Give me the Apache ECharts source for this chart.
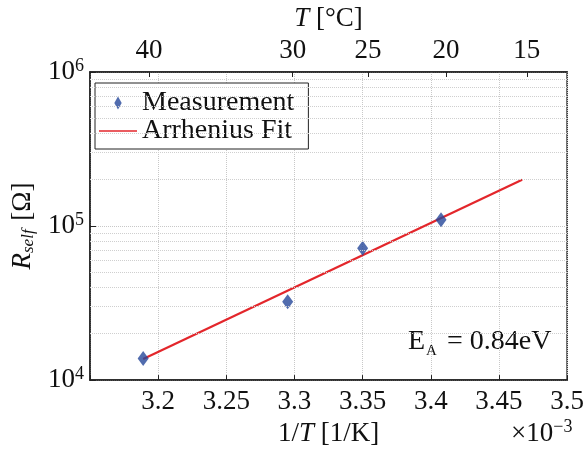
<!DOCTYPE html>
<html>
<head>
<meta charset="utf-8">
<script src="https://cdn.jsdelivr.net/npm/echarts@6/dist/echarts.min.js"></script>
<style>
html, body { margin: 0; padding: 0; background: #fff; }
#main { width: 587px; height: 452px; }
</style>
</head>
<body>
<div id="main"></div>
<script>
// measured points, 1/T in units of 1e-3 1/K
var invT = [3.189, 3.295, 3.350, 3.4075];
var resistance = [1.38e4, 3.23e4, 7.17e4, 1.10e5];
// fitted line (Arrhenius, EA = 0.84 eV)
var fitInvT = [3.189, 3.467];
var fitR = [1.37e4, 2.0e5];
// tick labels
var bottomTicks = [3.2, 3.25, 3.3, 3.35, 3.4, 3.45, 3.5];
var topTicksC = [40, 30, 25, 20, 15];
var yMinor = [2e4, 3e4, 4e4, 5e4, 6e4, 7e4, 8e4, 9e4, 2e5, 3e5, 4e5, 5e5, 6e5, 7e5, 8e5, 9e5];

var serif = '"Liberation Serif", "DejaVu Serif", serif';
var topPos = topTicksC.map(function (c) { return 1000 / (c + 273.15); });

var chart = echarts.init(document.getElementById('main'));

var option = {
	backgroundColor: '#fff',
	animation: false,
	grid: {
		left: 90, right: 19, top: 72, bottom: 66,
		show: true, borderColor: '#222', borderWidth: 1.5, backgroundColor: 'transparent'
	},
	legend: {
		orient: 'vertical',
		left: 95, top: 83,
		padding: [6, 14, 4, 4],
		itemGap: 0,
		itemWidth: 38,
		itemHeight: 13,
		symbolKeepAspect: true,
		borderColor: '#222',
		borderWidth: 1,
		backgroundColor: '#fff',
		textStyle: { fontFamily: serif, fontSize: 28, color: '#111', lineHeight: 26 },
		data: [
			{ name: 'Measurement', icon: 'path://M5,0 L9,7 L5,14 L1,7 Z', itemStyle: { color: '#25479a' } },
			{ name: 'Arrhenius Fit', icon: 'path://M0,0 L40,0 L40,1.6 L0,1.6 Z', itemStyle: { color: '#e3262b' } }
		]
	},
	xAxis: [
		{
			type: 'value',
			min: 3.15, max: 3.5, interval: 0.05,
			name: '1/{i|T} [1/K]',
			nameLocation: 'middle',
			nameGap: 36,
			nameTextStyle: {
				fontFamily: serif, fontSize: 27, color: '#111',
				rich: { i: { fontFamily: serif, fontSize: 27, fontStyle: 'italic', color: '#111' } }
			},
			axisLine: { lineStyle: { color: '#222', width: 1.5 } },
			axisTick: { inside: true, length: 5, lineStyle: { color: '#222' } },
			axisLabel: {
				margin: 8,
				fontFamily: serif, fontSize: 27, color: '#111',
				formatter: function (v) {
					return bottomTicks.some(function (t) { return Math.abs(t - v) < 1e-6; }) ? String(+v.toFixed(2)) : '';
				}
			},
			splitLine: { show: true, lineStyle: { color: '#c8c8c8', type: 'dotted', width: 1 } }
		},
		{
			type: 'value',
			position: 'top',
			min: 3.15, max: 3.5,
			name: '{i|T} [°C]',
			nameLocation: 'middle',
			nameGap: 36,
			nameTextStyle: {
				fontFamily: serif, fontSize: 27, color: '#111',
				rich: { i: { fontFamily: serif, fontSize: 27, fontStyle: 'italic', color: '#111' } }
			},
			axisLine: { lineStyle: { color: '#222', width: 1.5 } },
			axisTick: { inside: true, length: 5, customValues: topPos, lineStyle: { color: '#222' } },
			axisLabel: {
				margin: 8,
				customValues: topPos,
				fontFamily: serif, fontSize: 27, color: '#111',
				formatter: function (v) { return String(Math.round(1000 / v - 273.15)); }
			},
			splitLine: { show: false }
		}
	],
	yAxis: [
		{
			type: 'log',
			logBase: 10,
			min: 1e4, max: 1e6,
			name: '{i|R}{s|self} [Ω]',
			nameLocation: 'middle',
			nameRotate: 90,
			nameGap: 50,
			nameTextStyle: {
				fontFamily: serif, fontSize: 27, color: '#111',
				rich: {
					i: { fontFamily: serif, fontSize: 27, fontStyle: 'italic', color: '#111' },
					s: { fontFamily: serif, fontSize: 17, fontStyle: 'italic', color: '#111', verticalAlign: 'bottom', padding: [12, 2, 0, 0] }
				}
			},
			axisLine: { show: true, lineStyle: { color: '#222', width: 1.5 } },
			axisTick: { show: true, inside: true, length: 6, lineStyle: { color: '#222' } },
			axisLabel: {
				margin: 6,
				formatter: function (v) {
					return '{b|10}{s|' + Math.round(Math.log10(v)) + '}';
				},
				rich: {
					b: { fontFamily: serif, fontSize: 27, color: '#111', lineHeight: 30 },
					s: { fontFamily: serif, fontSize: 18, color: '#111', verticalAlign: 'top', lineHeight: 16 }
				}
			},
			splitLine: { show: true, lineStyle: { color: '#c8c8c8', type: 'dotted', width: 1 } }
		}
	],
	graphic: [
		{
			type: 'text',
			left: 408, top: 328,
			style: {
				text: 'E{s|A} = 0.84eV',
				fontFamily: serif, fontSize: 28, fill: '#111',
				rich: { s: { fontFamily: serif, fontSize: 15, fill: '#111', verticalAlign: 'bottom', padding: [18, 3, 0, 1] } }
			}
		},
		{
			type: 'text',
			left: 511, top: 418,
			style: {
				text: '×10{s|−3}',
				fontFamily: serif, fontSize: 27, fill: '#111',
				rich: { s: { fontFamily: serif, fontSize: 18, fill: '#111', verticalAlign: 'top', padding: [0, 0, 14, 0] } }
			}
		}
	],
	series: [
		{
			name: 'Arrhenius Fit',
			type: 'line',
			symbol: 'none',
			z: 2,
			color: '#e3262b',
			lineStyle: { color: '#e3262b', width: 2.2 },
			data: fitInvT.map(function (x, i) { return [x, fitR[i]]; }),
			markLine: {
				silent: true,
				symbol: 'none',
				label: { show: false },
				lineStyle: { color: '#cfcfcf', type: 'dotted', width: 1 },
				data: yMinor.map(function (v) { return { yAxis: v }; })
			}
		},
		{
			name: 'Measurement',
			type: 'scatter',
			symbol: 'diamond',
			symbolSize: [11, 15],
			z: 3,
			itemStyle: { color: '#25479a' },
			data: invT.map(function (x, i) { return [x, resistance[i]]; })
		}
	]
};
chart.setOption(option);
</script>
</body>
</html>
